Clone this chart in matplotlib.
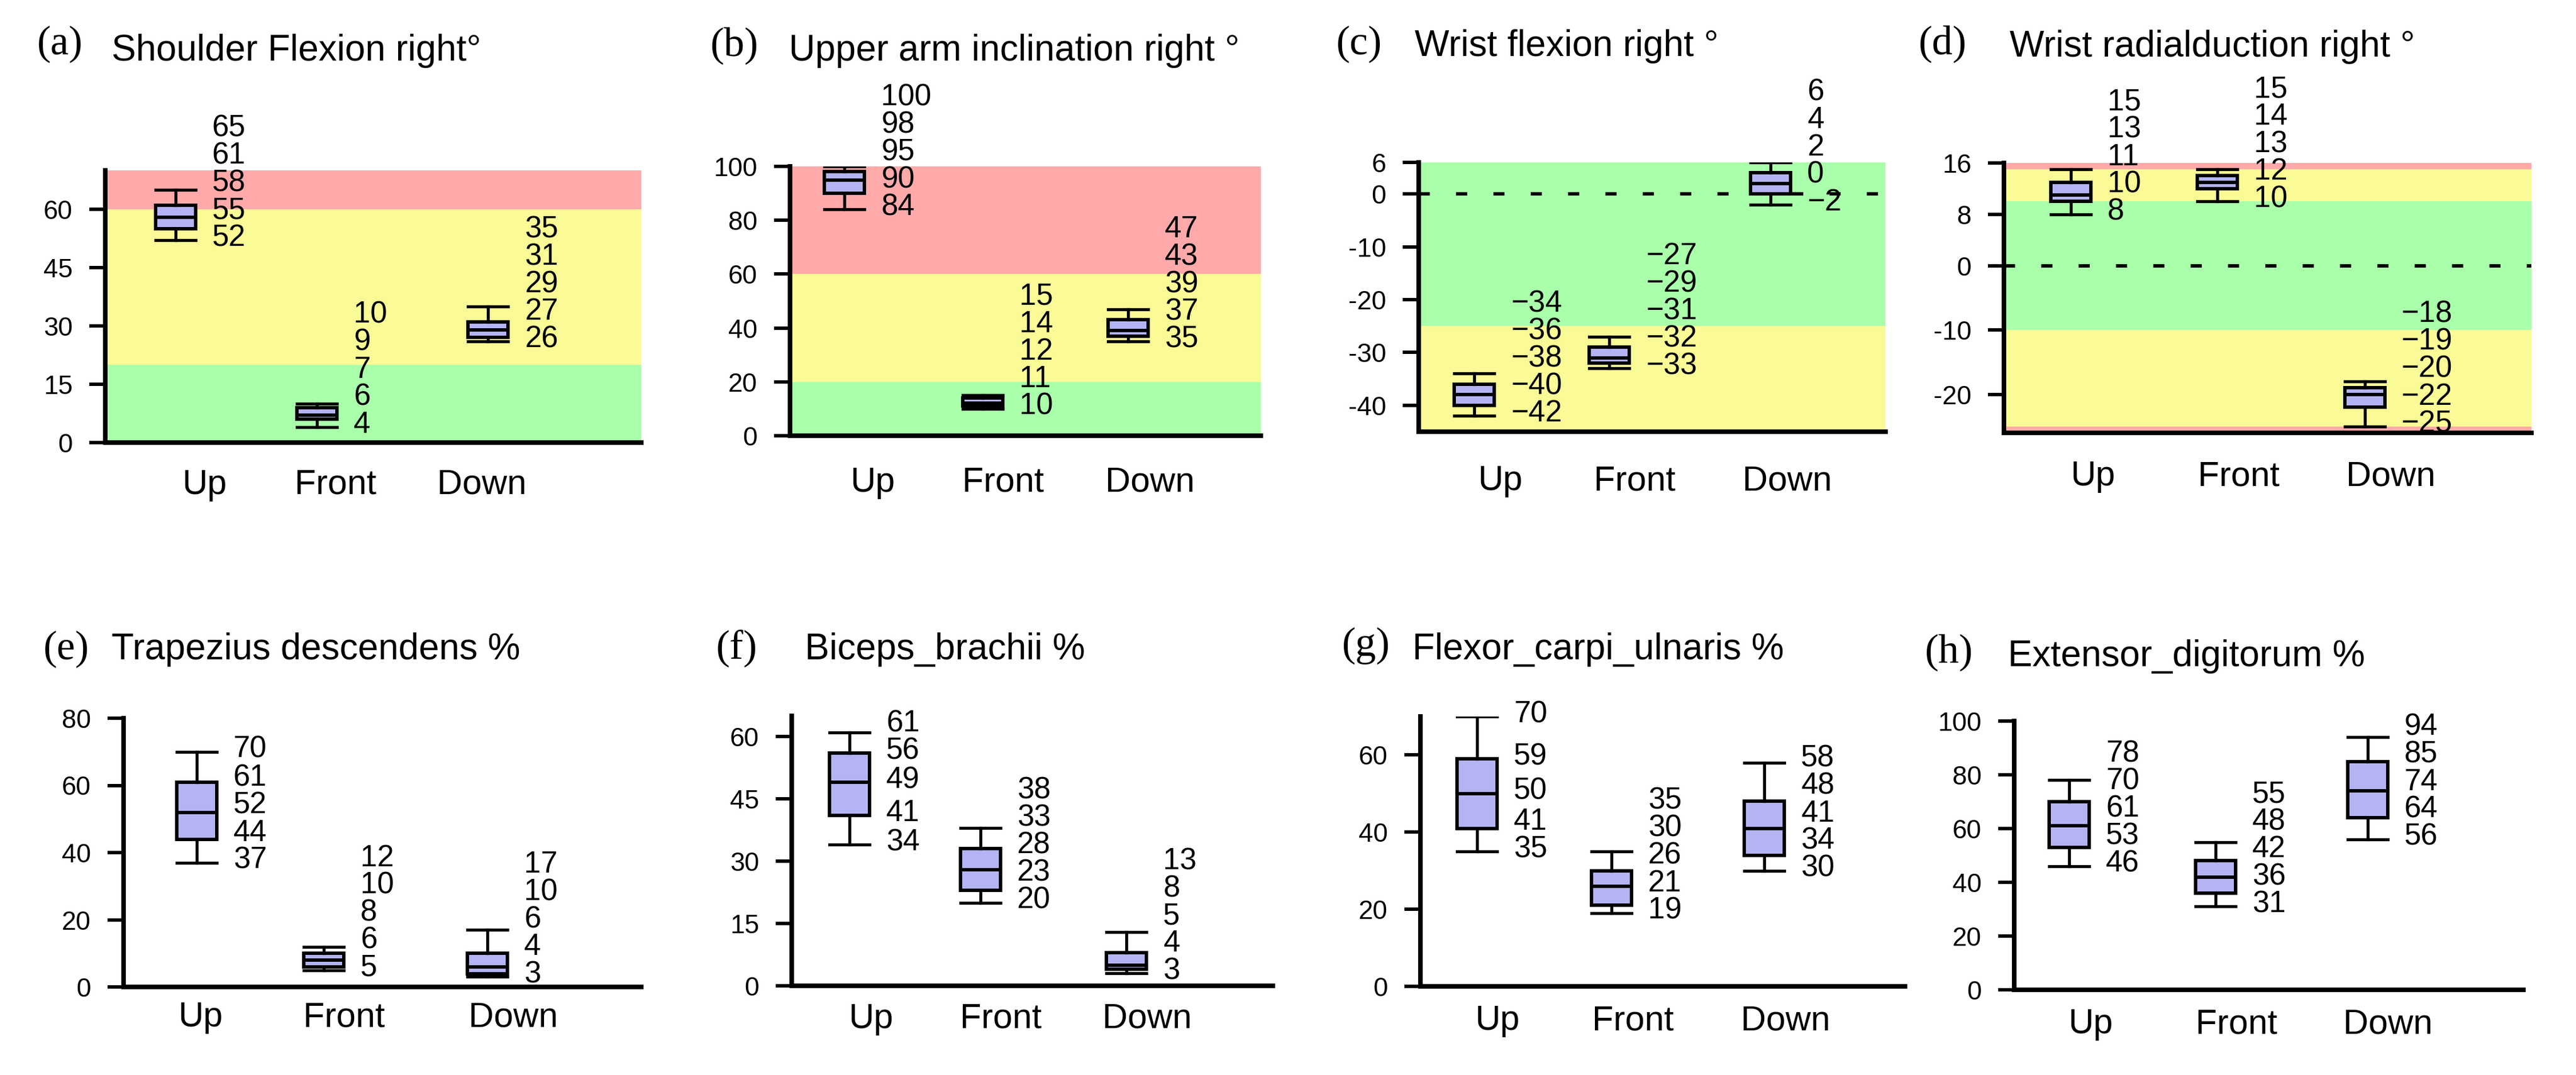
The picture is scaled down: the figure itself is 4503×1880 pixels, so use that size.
import matplotlib

matplotlib.use("Agg")
import matplotlib.pyplot as plt

plt.rcParams["font.family"] = ["Liberation Sans", "DejaVu Sans"]
plt.rcParams["lines.scale_dashes"] = False

FIG_W, FIG_H, DPI = 4503, 1880, 100

CATEGORIES = ["Up", "Front", "Down"]
LETTERS = ["(a)", "(b)", "(c)", "(d)", "(e)", "(f)", "(g)", "(h)"]
TITLES = [
    "Shoulder Flexion right°",
    "Upper arm inclination right °",
    "Wrist flexion right °",
    "Wrist radialduction right °",
    "Trapezius descendens %",
    "Biceps_brachii %",
    "Flexor_carpi_ulnaris %",
    "Extensor_digitorum %",
]

# min, q1, median, q3, max for Up / Front / Down
SHOULDER_FLEXION = [[52, 55, 58, 61, 65], [4, 6, 7, 9, 10], [26, 27, 29, 31, 35]]
UPPER_ARM_INCLINATION = [[84, 90, 95, 98, 100], [10, 11, 12, 14, 15], [35, 37, 39, 43, 47]]
WRIST_FLEXION = [[-42, -40, -38, -36, -34], [-33, -32, -31, -29, -27], [-2, 0, 2, 4, 6]]
WRIST_RADIALDUCTION = [[8, 10, 11, 13, 15], [10, 12, 13, 14, 15], [-25, -22, -20, -19, -18]]
TRAPEZIUS = [[37, 44, 52, 61, 70], [5, 6, 8, 10, 12], [3, 4, 6, 10, 17]]
BICEPS = [[34, 41, 49, 56, 61], [20, 23, 28, 33, 38], [3, 4, 5, 8, 13]]
FLEXOR_CARPI = [[35, 41, 50, 59, 70], [19, 21, 26, 30, 35], [30, 34, 41, 48, 58]]
EXTENSOR_DIGITORUM = [[46, 53, 61, 70, 78], [31, 36, 42, 48, 55], [56, 64, 74, 85, 94]]

PANELS = [
    SHOULDER_FLEXION,
    UPPER_ARM_INCLINATION,
    WRIST_FLEXION,
    WRIST_RADIALDUCTION,
    TRAPEZIUS,
    BICEPS,
    FLEXOR_CARPI,
    EXTENSOR_DIGITORUM,
]

Y_LIMITS = [(0, 70), (0, 100), (-45, 6), (-26, 16), (0, 80), (0, 65), (0, 70), (0, 100)]
Y_TICKS = [
    [0, 15, 30, 45, 60],
    [0, 20, 40, 60, 80, 100],
    [-40, -30, -20, -10, 0, 6],
    [-20, -10, 0, 8, 16],
    [0, 20, 40, 60, 80],
    [0, 15, 30, 45, 60],
    [0, 20, 40, 60],
    [0, 20, 40, 60, 80, 100],
]

# risk zones behind the posture panels: (lower, upper, zone)
ZONES = [
    [(0, 20, "green"), (20, 60, "yellow"), (60, 70, "red")],
    [(0, 20, "green"), (20, 60, "yellow"), (60, 100, "red")],
    [(-45, -25, "yellow"), (-25, 6, "green")],
    [(-26, -25, "red"), (-25, -10, "yellow"), (-10, 10, "green"), (10, 15, "yellow"), (15, 16, "red")],
    [], [], [], [],
]
ZERO_LINE = [False, False, True, True, False, False, False, False]

ZONE_COLORS = {"green": "#aaffaa", "yellow": "#fafa96", "red": "#ffaaaa"}
BOX_FILL = "#b4b4f4"

# layout, in pixels of the final image
AX_PX = [  # left, top, right, bottom
    (184, 298, 1121, 774),
    (1381, 291, 2204, 762),
    (2480, 284, 3296, 755),
    (3503, 285, 4425, 757),
    (216, 1256, 1121, 1726),
    (1384, 1252, 2225, 1724),
    (2483, 1253, 3330, 1725),
    (3521, 1261, 4411, 1731),
]
BOX_X = [
    [0.131, 0.395, 0.714],
    [0.116, 0.409, 0.718],
    [0.119, 0.408, 0.754],
    [0.127, 0.405, 0.684],
    [0.141, 0.387, 0.703],
    [0.120, 0.392, 0.696],
    [0.117, 0.394, 0.710],
    [0.108, 0.395, 0.694],
]
LABEL_X = [
    [0.185, 0.429, 0.702],
    [0.175, 0.453, 0.764],
    [0.174, 0.462, 0.790],
    [0.168, 0.445, 0.733],
    [0.149, 0.426, 0.753],
    [0.165, 0.435, 0.739],
    [0.159, 0.438, 0.753],
    [0.150, 0.437, 0.734],
]
XLABEL_GAP_PX = [58, 66, 70, 60, 37, 42, 44, 44]
LETTER_PX = [(65, 95), (1242, 98), (2336, 95), (3354, 95), (76, 1153), (1252, 1153), (2346, 1147), (3365, 1159)]
TITLE_PX = [(195, 106), (1379, 106), (2473, 98), (3513, 99), (195, 1153), (1407, 1153), (2469, 1153), (3510, 1165)]

BOX_PX = 70
LINE_PX = 48  # vertical spacing of the stacked value labels
PT = 72 / DPI


def _fmt(v):
    return f"\u2212{abs(v)}" if v < 0 else str(v)


fig = plt.figure(figsize=(FIG_W / DPI, FIG_H / DPI), dpi=DPI)

for i, stats in enumerate(PANELS):
    left, top, right, bottom = AX_PX[i]
    ax = fig.add_axes([left / FIG_W, 1 - bottom / FIG_H, (right - left) / FIG_W, (bottom - top) / FIG_H])
    ax.set_xlim(0, 1)
    ax.set_ylim(*Y_LIMITS[i])

    for lo, hi, zone in ZONES[i]:
        ax.axhspan(lo, hi, color=ZONE_COLORS[zone], lw=0, zorder=0)
    if ZERO_LINE[i]:
        ax.axhline(0, color="black", lw=4.3, linestyle=(0, (14, 33)), zorder=1)

    width = BOX_PX / (right - left)
    bxp_stats = [
        dict(whislo=s[0], q1=s[1], med=s[2], q3=s[3], whishi=s[4], fliers=[])
        for s in stats
    ]
    ax.bxp(
        bxp_stats,
        positions=BOX_X[i],
        widths=width,
        capwidths=width,
        patch_artist=True,
        showfliers=False,
        manage_ticks=False,
        boxprops=dict(facecolor=BOX_FILL, edgecolor="black", linewidth=4.3),
        whiskerprops=dict(color="black", linewidth=3.8),
        capprops=dict(color="black", linewidth=3.8),
        medianprops=dict(color="black", linewidth=4.3),
        zorder=3,
    )

    # five values stacked to the right of each box, pushed apart where they collide
    for x, s in zip(BOX_X[i], stats):
        prev = None
        for v in s:
            v_px = ax.transData.transform((0, v))[1]
            y_px = v_px - 10
            if prev is not None:
                y_px = max(y_px, prev + LINE_PX)
            prev = y_px
            ax.annotate(
                _fmt(v),
                xy=(x, v),
                xytext=((BOX_PX / 2 + 29) * PT, (y_px - v_px) * PT),
                textcoords="offset points",
                ha="left",
                va="baseline",
                fontsize=38,
                annotation_clip=False,
                zorder=4,
            )

    ax.set_yticks(Y_TICKS[i])
    ax.set_yticklabels([str(t) for t in Y_TICKS[i]])
    ax.set_xticks(LABEL_X[i])
    ax.set_xticklabels(CATEGORIES)
    ax.tick_params(axis="y", length=20, width=4.3, pad=21, labelsize=33)
    ax.tick_params(axis="x", length=0, pad=(XLABEL_GAP_PX[i] - 12) * PT, labelsize=44)
    ax.spines[["top", "right"]].set_visible(False)
    ax.spines[["left", "bottom"]].set_linewidth(5.8)
    ax.patch.set_visible(False)

    lx, ly = LETTER_PX[i]
    fig.text(lx / FIG_W, 1 - ly / FIG_H, LETTERS[i], fontsize=52,
             family=["Liberation Serif", "DejaVu Serif"], va="baseline")
    tx, ty = TITLE_PX[i]
    fig.text(tx / FIG_W, 1 - ty / FIG_H, TITLES[i], fontsize=46, va="baseline")

fig.savefig("out.png", dpi=DPI)
plt.close(fig)
